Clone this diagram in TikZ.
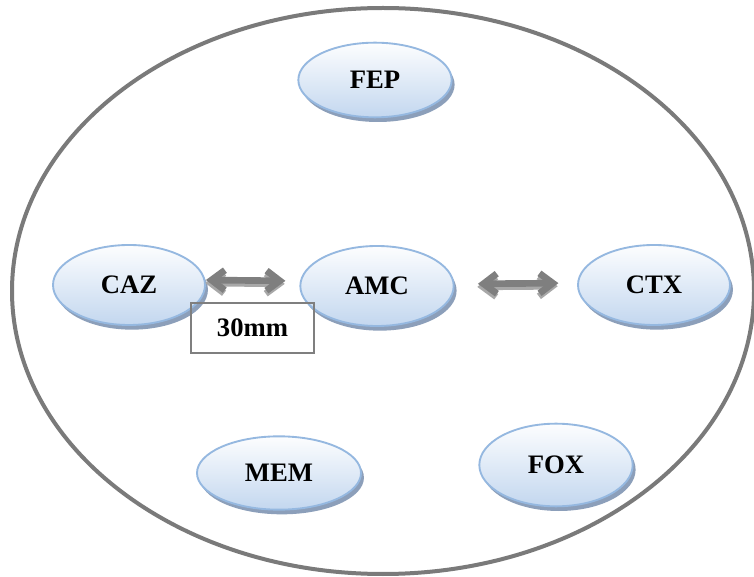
\documentclass[tikz,border=0pt]{standalone}
\usepackage{fontspec}
\setmainfont{Liberation Serif}
\usetikzlibrary{shapes.geometric,shadows,arrows.meta}
\definecolor{ringgray}{HTML}{7A7A7A}
\definecolor{ovalborder}{HTML}{95B8E0}
\definecolor{ovalbottom}{HTML}{C3D7EF}
\definecolor{ovalshadow}{HTML}{8C9FBA}
\definecolor{arrowgray}{HTML}{7F7F7F}
\definecolor{arrowshadow}{HTML}{A8A8A8}
\tikzset{
  oval/.style={ellipse, draw=ovalborder, line width=1.4pt, top color=white!96!ovalbottom, bottom color=ovalbottom,
    drop shadow={shadow xshift=2.2pt, shadow yshift=-3.5pt, fill=ovalshadow, opacity=1},
    font=\fontsize{20}{22}\selectfont\bfseries, inner sep=0pt},
  barbtip/.tip={Straight Barb[length=10pt,width=15pt,line width=5pt]},
  dblarrow/.style={line width=5pt, arrowgray, barbtip-barbtip},
  dblshadow/.style={line width=5pt, arrowshadow, barbtip-barbtip},
  labelbox/.style={draw=arrowgray, line width=1.1pt, minimum width=92pt, minimum height=37.5pt, font=\fontsize{20}{22}\selectfont\bfseries, inner sep=0pt}
}
\begin{document}
\begin{tikzpicture}[x=0.75pt,y=-0.75pt]
\useasboundingbox (0,0) rectangle (754,577);
\fill[white] (0,0) rectangle (754,577);
\draw[ringgray, line width=3pt] (383,291) ellipse [x radius=371, y radius=283];
\node[oval, minimum width=115pt, minimum height=56pt] (fep) at (375,80) {FEP};
\node[oval, minimum width=114pt, minimum height=60pt] (caz) at (129,285) {CAZ};
\node[oval, minimum width=115pt, minimum height=60pt] (amc) at (377,286) {AMC};
\node[oval, minimum width=114pt, minimum height=60pt] (ctx) at (654,285) {CTX};
\node[oval, minimum width=123pt, minimum height=55pt] (mem) at (279,473) {MEM};
\node[oval, minimum width=115pt, minimum height=62pt] (fox) at (556,465) {FOX};
\node[labelbox] (box) at (252.5,328) {30mm};
% arrows with shadows
\draw[dblshadow, shorten <=0pt, shorten >=10.5pt] ([xshift=-0.5pt,yshift=1.5pt]caz.east) -- ([xshift=-0.5pt,yshift=1.5pt]amc.west);
\draw[dblarrow, shorten <=0pt, shorten >=10.5pt] ([yshift=3.75pt]caz.east) -- ([yshift=3.75pt]amc.west);
\draw[dblshadow, shorten <=17.5pt, shorten >=14pt] ([xshift=-0.5pt,yshift=-0.8pt]amc.east) -- ([xshift=-0.5pt,yshift=-0.8pt]ctx.west);
\draw[dblarrow, shorten <=17.5pt, shorten >=14pt] ([yshift=1.5pt]amc.east) -- ([yshift=1.5pt]ctx.west);
\end{tikzpicture}
\end{document}
